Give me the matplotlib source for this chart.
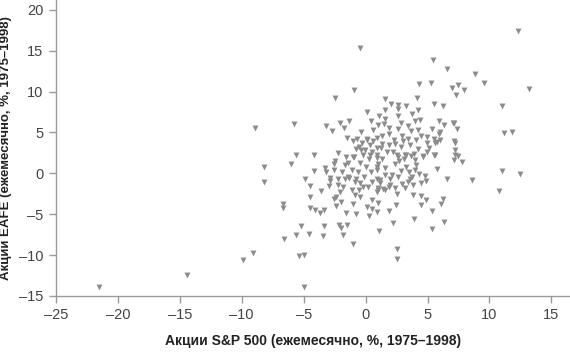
import matplotlib
matplotlib.use("Agg")
import matplotlib.pyplot as plt

# monthly returns, %
sp500 = [
    -21.5, -14.4, -9.9, -9.1, -8.9, -8.2, -8.2, -6.7, -6.65, -6.6,
    -6.0, -5.8, -5.6, -5.4, -5.0, -5.0, -5.2, -5.6, -4.6, -4.9,
    -4.45, -4.5, -4.45, -4.1, -3.7, -3.35, -3.35, -3.4, -4.2, -4.2,
    -3.3, -3.2, -3.2, -2.7, -2.5, -2.1, -1.75, -1.5, -1.35, -0.95,
    -0.45, -2.55, -2.55, -2.2, -1.6, -1.65, -2.85, -2.85, -2.95, -2.2,
    -1.65, -1.85, -2.1, -2.35, -2.55, -2.4, -1.55, -0.8, 0.3, 0.95,
    -2.15, -1.95, -1.5, -1.8, -1.05, 1.05, 2.2, 2.5, 2.55, 3.9,
    5.4, 6.3, 5.4, 6.1, 6.25, 4.5, 4.9, 4.5, 3.85, 2.45,
    1.85, 0.5, 0.15, 0.55, 1.0, -0.45, -0.85, -0.55, 1.0, 1.55,
    -0.2, 0.2, 0.5, -0.45, -0.75, -1.3, 1.85, 1.95, 2.35, 3.15,
    3.85, 4.5, 4.9, 3.45, 3.6, 3.75, 4.8, 6.6, 8.55, 10.75,
    11.0, 12.45, 11.0, 11.2, 11.8, 13.2, 12.3, 8.8, 9.55, 5.45,
    6.6, 4.3, 5.25, 7.0, 7.5, 7.95, 7.3, 4.15, 1.6, 0.1,
    2.05, 2.6, 2.6, 3.25, 1.6, 4.25, 5.5, 6.25, 1.1, 2.65,
    3.75, 0.45, 4.4, 4.0, 1.6, 5.9, 7.05, 7.4, 2.85, 2.6,
    3.7, 4.25, 5.35, 1.85, 1.3, 0.95, 4.5, 4.95, 5.9, 5.55,
    7.1, 6.0, 2.3, 4.05, 1.85, 1.25, 2.85, 3.6, 4.2, 5.15,
    5.6, 7.2, 7.5, 2.2, 3.15, 3.9, 4.6, 5.6, -0.4, -0.7,
    0.15, -0.55, 0.35, -0.05, 0.35, -1.05, 0.95, 5.8, 7.75, 7.1,
    7.15, 7.2, -0.95, -0.45, 0.0, 0.3, -0.2, 0.95, 0.9, -1.1,
    -2.45, 0.9, 1.3, 1.0, 1.55, 0.95, 0.95, 1.15, 1.0, 2.1,
    1.95, 4.0, 4.1, 2.85, 3.1, 3.25, 2.35, 2.65, 3.7, 4.0,
    4.65, 5.55, 7.2, 0.1, -0.4, -0.8, 1.3, 1.9, 2.35, 2.5,
    3.25, 3.45, 4.95, 4.95, 5.75, 6.0, 6.35, -2.2, -1.4, -0.85,
    0.9, 1.4, 2.5, -1.1, -0.6, 0.4, 1.6, 2.6, -1.9, -1.4,
    -0.3, 0.6, 1.0, -1.0, 2.9, 3.4, 0.5, 1.7, 2.7, 3.5,
    -0.1, 1.2, 2.9, 4.3, -3.6, -2.0, -1.0, 0.6, 1.5, 3.0,
]
eafe = [
    -13.9, -12.4, -10.6, -9.7, 5.55, 0.8, -1.1, -3.8, -4.2, -8.0,
    1.1, 6.0, 2.2, -10.1, -9.95, -13.9, -6.4, -7.5, -7.4, -0.7,
    -1.5, -2.9, -4.2, -4.5, -4.9, -4.5, -6.5, -7.7, 2.3, 0.3,
    0.7, 0.1, 5.75, 5.15, 9.2, 6.2, 5.5, 4.3, 6.4, 10.2,
    15.3, 1.2, 0.4, 2.5, 2.0, 1.05, -0.55, -0.9, -1.55, -1.4,
    -0.65, -1.7, -2.3, -2.9, -3.2, -4.05, -4.85, -5.0, -5.25, -4.7,
    -6.35, -6.7, -6.35, -7.5, -8.7, -7.05, -6.1, -9.3, -10.45, -5.55,
    -6.8, -5.95, -4.55, -3.7, -3.2, -3.9, -3.3, -2.8, -2.7, -3.9,
    -4.6, -4.4, -4.1, -3.3, -3.6, -2.9, -2.7, -2.1, -2.1, -2.1,
    -1.7, -1.7, -1.05, -1.2, -0.65, -0.55, -1.65, -1.45, -1.8, -1.85,
    -1.4, -1.15, -1.0, -1.05, -0.65, -0.5, -0.35, -0.7, -0.85, -2.2,
    0.25, -0.1, 8.25, 4.95, 5.05, 10.3, 17.4, 12.2, 11.1, 13.8,
    12.8, 10.9, 11.0, 10.4, 10.8, 10.2, 9.6, 9.2, 9.1, 7.55,
    8.45, 8.3, 7.9, 8.25, 7.8, 7.75, 8.45, 8.25, 7.0, 7.0,
    7.3, 6.45, 6.55, 6.35, 6.6, 6.35, 6.2, 5.45, 6.1, 5.45,
    5.15, 5.25, 5.4, 4.8, 4.55, 4.35, 4.55, 4.45, 4.75, 4.25,
    3.9, 4.05, 4.05, 4.1, 3.45, 3.1, 3.25, 3.5, 3.0, 3.1,
    3.65, 2.8, 2.1, 2.55, 2.2, 2.4, 2.1, 2.2, 5.0, 4.25,
    4.25, 3.25, 3.5, 2.8, 2.3, 2.0, 3.1, 0.5, 1.4, 1.6,
    6.1, 3.7, 2.0, 1.25, 0.8, 1.7, 2.25, 1.9, 0.8, 0.45,
    1.5, 2.2, 1.7, 1.2, 0.6, 0.35, -0.65, -0.8, -1.85, -0.25,
    -0.65, 0.45, 1.0, 0.3, 1.8, 0.8, 1.2, 2.0, 2.1, 1.6,
    2.0, 2.2, 2.2, 4.1, 2.8, 3.0, 3.6, 5.55, 3.6, 2.3,
    2.3, 4.25, 3.75, 2.6, 3.85, 5.05, 5.9, -0.65, -0.45, -1.05,
    -2.3, -1.9, -2.5, -2.1, 0.2, 0.1, -0.2, -0.4, 0.2, 1.3,
    3.7, 5.3, 5.9, 3.9, 4.6, 5.8, 2.6, 2.6, 1.5, 0.2,
    -0.4, -1.2, -1.3, -0.1, -2.2, -3.5, -3.8, 3.9, 6.0, 3.9,
]

x_ticks = [-25, -20, -15, -10, -5, 0, 5, 10, 15]
y_ticks = [-15, -10, -5, 0, 5, 10, 15, 20]

plt.rcParams['font.family'] = ['Liberation Sans', 'DejaVu Sans']

fig = plt.figure(figsize=(5.7, 3.54), dpi=100)
ax = fig.add_axes([0.098, 0.164, 0.902, 0.836])

ax.scatter(sp500, eafe, marker="v", s=18, color="#8c8c8c", linewidths=0)

ax.set_xlim(-25, 16.5)
ax.set_ylim(-15, 21.2)
ax.set_xticks(x_ticks)
ax.set_yticks(y_ticks)
ax.set_xticklabels([str(t).replace("-", "–") for t in x_ticks])
ax.set_yticklabels([str(t).replace("-", "–") for t in y_ticks])

for side in ["top", "right"]:
    ax.spines[side].set_visible(False)
for side in ["left", "bottom"]:
    ax.spines[side].set_color("#999999")
    ax.spines[side].set_linewidth(1)

ax.tick_params(direction="out", length=5, width=1, color="#999999",
               labelsize=10.5, labelcolor="#444444", pad=4)

ax.set_xlabel("Акции S&P 500 (ежемесячно, %, 1975–1998)",
              fontsize=10, fontweight="bold", color="#222222", labelpad=8)
ax.set_ylabel("Акции EAFE (ежемесячно, %, 1975–1998)",
              fontsize=9.5, fontweight="bold", color="#222222", labelpad=5)

fig.savefig("out.png", dpi=100)
